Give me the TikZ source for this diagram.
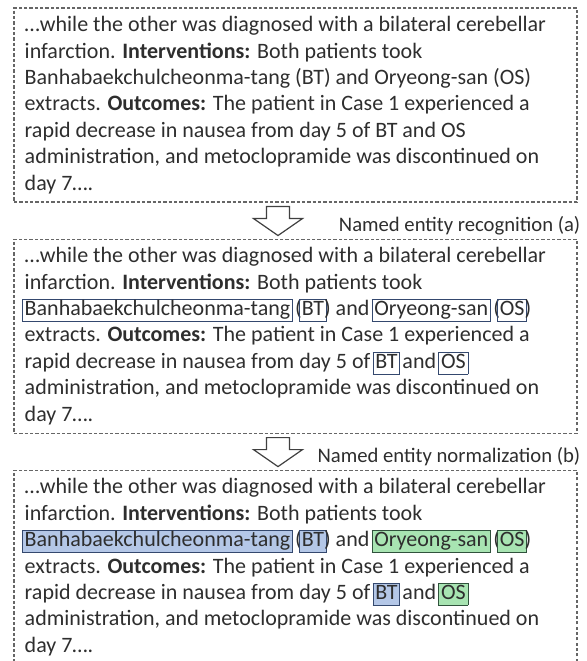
\documentclass[tikz,border=0pt]{standalone}
\usepackage{fontspec}
\setmainfont{Carlito}
\usepackage{xcolor}
\usetikzlibrary{positioning}

\definecolor{entframe}{RGB}{52,72,110}
\definecolor{btfill}{RGB}{180,199,231}
\definecolor{osfill}{RGB}{168,228,178}
\definecolor{osframe}{RGB}{48,82,60}

% inline entity marks, drawn without changing the text width
\newlength\entpad
\setlength\entpad{1.4pt}
\newsavebox\entsave
\newlength\entwd
\newcommand\nenbox[3]{%
  \sbox\entsave{#3}\setlength\entwd{\wd\entsave}%
  \makebox[\entwd][l]{\hspace{-\entpad}\hspace{-0.6pt}{\fboxsep=\entpad\fboxrule=0.6pt\fcolorbox{#1}{#2}{\vphantom{Bg}\hbox to \entwd{}}}}%
  \hspace{-\entwd}\usebox\entsave}
\newcommand\nerbox[1]{%
  \sbox\entsave{#1}\setlength\entwd{\wd\entsave}%
  \makebox[\entwd][l]{\hspace{-\entpad}\hspace{-0.6pt}{\fboxsep=\entpad\fboxrule=0.6pt\color{entframe}\fbox{\vphantom{Bg}\hbox to \entwd{}}}}%
  \hspace{-\entwd}\usebox\entsave}

\begin{document}
\begin{tikzpicture}[x=0.75pt, y=-0.75pt,
  node distance=27pt,
  textframe/.style={draw=black!60, line width=0.8pt, dash pattern=on 2.4pt off 1.6pt,
    minimum width=422.25pt, minimum height=145.5pt, inner sep=0pt},
  body/.style={align=left, inner sep=0pt, text=black!82, font=\fontsize{16.5}{19.8}\selectfont},
  lbl/.style={inner sep=0pt, text=black!82, font=\fontsize{15.5}{18}\selectfont},
  arrowline/.style={draw=black!75, line width=0.9pt, fill=white, line join=miter},
  downarrow/.pic={\path[arrowline] (-11.5,0) -- (-11.5,12) -- (-24.5,12) -- (0,29)
    -- (24.5,12) -- (11.5,12) -- (11.5,0) -- cycle;}
]
\useasboundingbox (0,0) rectangle (586,661);

\node[textframe] (case) at (295.5,105) {};
\node[textframe, below=of case] (ner) {};
\node[textframe, below=of ner] (nen) {};

% raw text
\node[body, anchor=west] (casetext) at ([xshift=8.25pt]case.west) {%
…while the other was diagnosed with a bilateral cerebellar\\
infarction. \textbf{Interventions:} Both patients took\\
Banhabaekchulcheonma-tang (BT) and Oryeong-san (OS)\\
extracts. \textbf{Outcomes:} The patient in Case 1 experienced a\\
rapid decrease in nausea from day 5 of BT and OS\\
administration, and metoclopramide was discontinued on\\
day 7….};

% recognised mentions
\node[body, anchor=west] (nertext) at ([xshift=8.25pt]ner.west) {%
…while the other was diagnosed with a bilateral cerebellar\\
infarction. \textbf{Interventions:} Both patients took\\
\nerbox{Banhabaekchulcheonma-tang} (\nerbox{BT}) and \nerbox{Oryeong-san} (\nerbox{OS})\\
extracts. \textbf{Outcomes:} The patient in Case 1 experienced a\\
rapid decrease in nausea from day 5 of \nerbox{BT} and \nerbox{OS}\\
administration, and metoclopramide was discontinued on\\
day 7….};

% normalised mentions
\node[body, anchor=west] (nentext) at ([xshift=8.25pt]nen.west) {%
…while the other was diagnosed with a bilateral cerebellar\\
infarction. \textbf{Interventions:} Both patients took\\
\nenbox{entframe}{btfill}{Banhabaekchulcheonma-tang} (\nenbox{entframe}{btfill}{BT}) and \nenbox{osframe}{osfill}{Oryeong-san} (\nenbox{osframe}{osfill}{OS})\\
extracts. \textbf{Outcomes:} The patient in Case 1 experienced a\\
rapid decrease in nausea from day 5 of \nenbox{entframe}{btfill}{BT} and \nenbox{osframe}{osfill}{OS}\\
administration, and metoclopramide was discontinued on\\
day 7….};

\path (case.south) ++(-17.5,4) coordinate (arrowa);
\path (ner.south) ++(-17.5,4) coordinate (arrowb);
\pic at (arrowa) {downarrow};
\pic at (arrowb) {downarrow};

\node[lbl, anchor=base east] (nerlabel) at ([shift={(3,29)}]case.south east) {Named entity recognition (a)};
\node[lbl, anchor=base east] (nenlabel) at ([shift={(3,29)}]ner.south east) {Named entity normalization (b)};
\end{tikzpicture}
\end{document}
